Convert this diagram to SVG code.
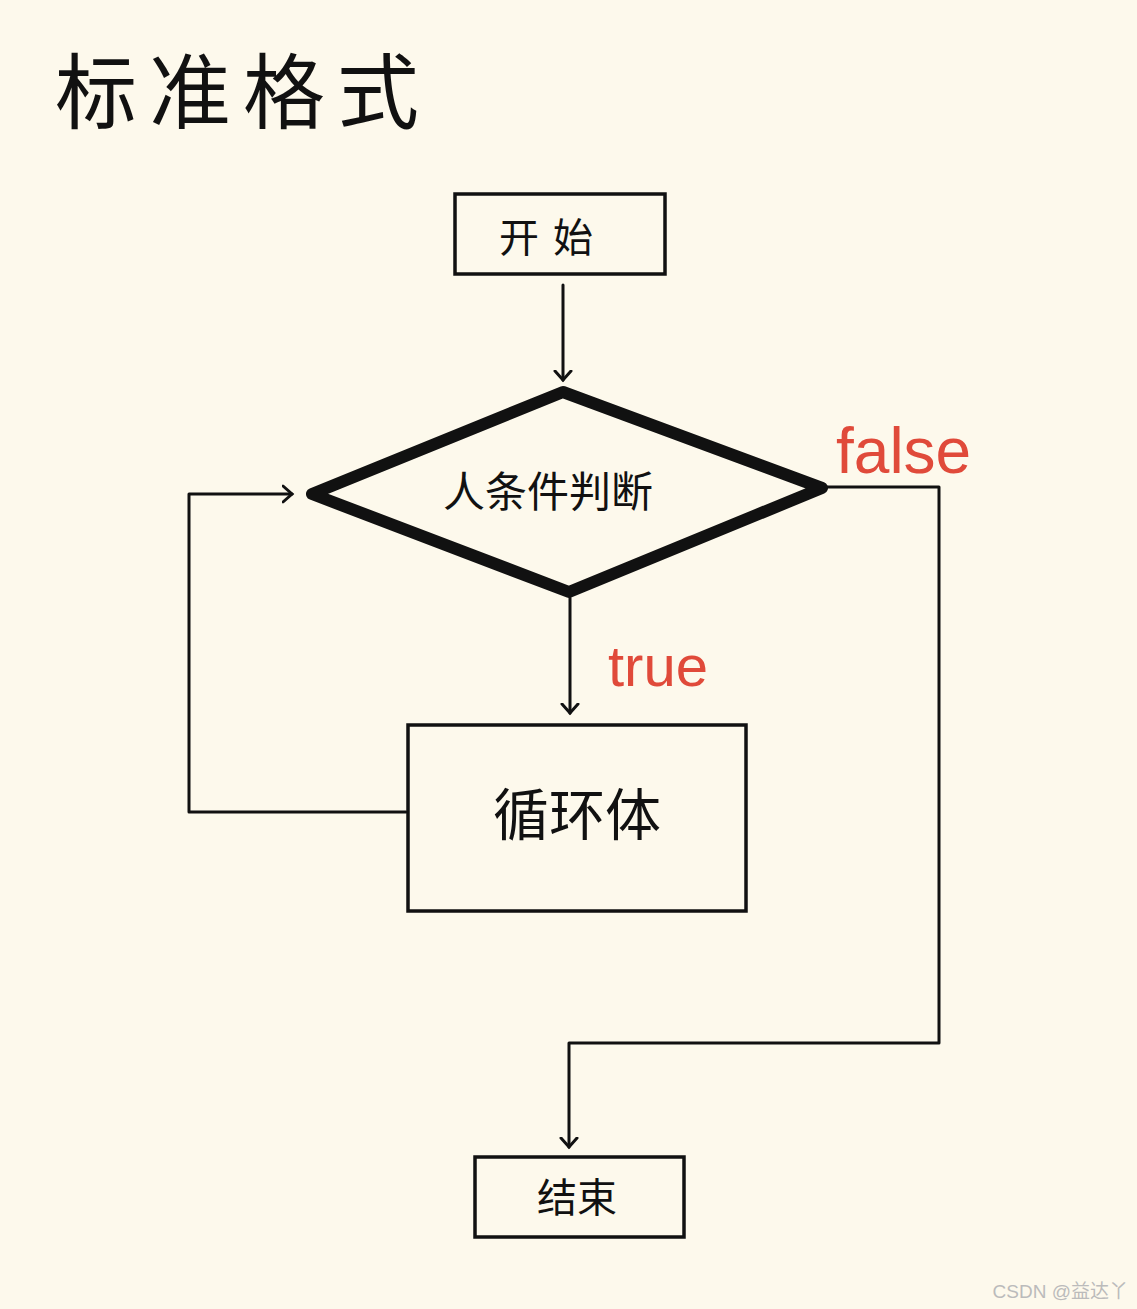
<svg xmlns="http://www.w3.org/2000/svg" width="1137" height="1309" viewBox="0 0 1137 1309">
<style>
.box{fill:none;stroke:#111;stroke-width:3.5}
.ln{fill:none;stroke:#111;stroke-width:3;stroke-linecap:round;stroke-linejoin:round}
.t{font-family:"Noto Sans CJK SC","Liberation Sans",sans-serif;fill:#111;text-anchor:middle}
.r{font-family:"Liberation Sans",sans-serif;fill:#e04a3a}
</style>
<defs><marker id="a" markerWidth="20" markerHeight="20" refX="10" refY="10" orient="auto" markerUnits="userSpaceOnUse"><path d="M1,2 L10,10 L1,18" fill="none" stroke="#111" stroke-width="3" stroke-linecap="round"/></marker></defs>
<rect width="1137" height="1309" fill="#fdf9ec"/>
<text x="55" y="122" font-family="Noto Sans CJK SC,sans-serif" font-size="82" fill="#111" letter-spacing="12">标准格式</text>
<g id="start"><rect class="box" x="455" y="194" width="210" height="80"/><text class="t" x="553" y="252" font-size="40" letter-spacing="14">开始</text></g>
<g id="cond"><polygon points="563,392 822,488 569,592 312,494" fill="none" stroke="#111" stroke-width="12" stroke-linejoin="round"/><text class="t" x="548" y="507" font-size="42">人条件判断</text></g>
<g id="body"><rect class="box" x="408" y="725" width="338" height="186"/><text class="t" x="577" y="835" font-size="56">循环体</text></g>
<g id="end"><rect class="box" x="475" y="1157" width="209" height="80"/><text class="t" x="577" y="1212" font-size="40">结束</text></g>
<g id="connectors">
<line class="ln" x1="563" y1="285" x2="563" y2="380" marker-end="url(#a)"/>
<line class="ln" x1="570" y1="598" x2="570" y2="713" marker-end="url(#a)"/>
<polyline class="ln" points="406,812 189,812 189,494 292,494" marker-end="url(#a)"/>
<polyline class="ln" points="826,487 939,487 939,1043 569,1043 569,1147" marker-end="url(#a)"/>
<text class="r" x="836" y="473" font-size="64">false</text>
<text class="r" x="608" y="686" font-size="58">true</text>
</g>
<text x="1128" y="1298" font-family="Liberation Sans,Noto Sans CJK SC,sans-serif" font-size="19" fill="#bbb" text-anchor="end">CSDN @益达丫</text>
</svg>
